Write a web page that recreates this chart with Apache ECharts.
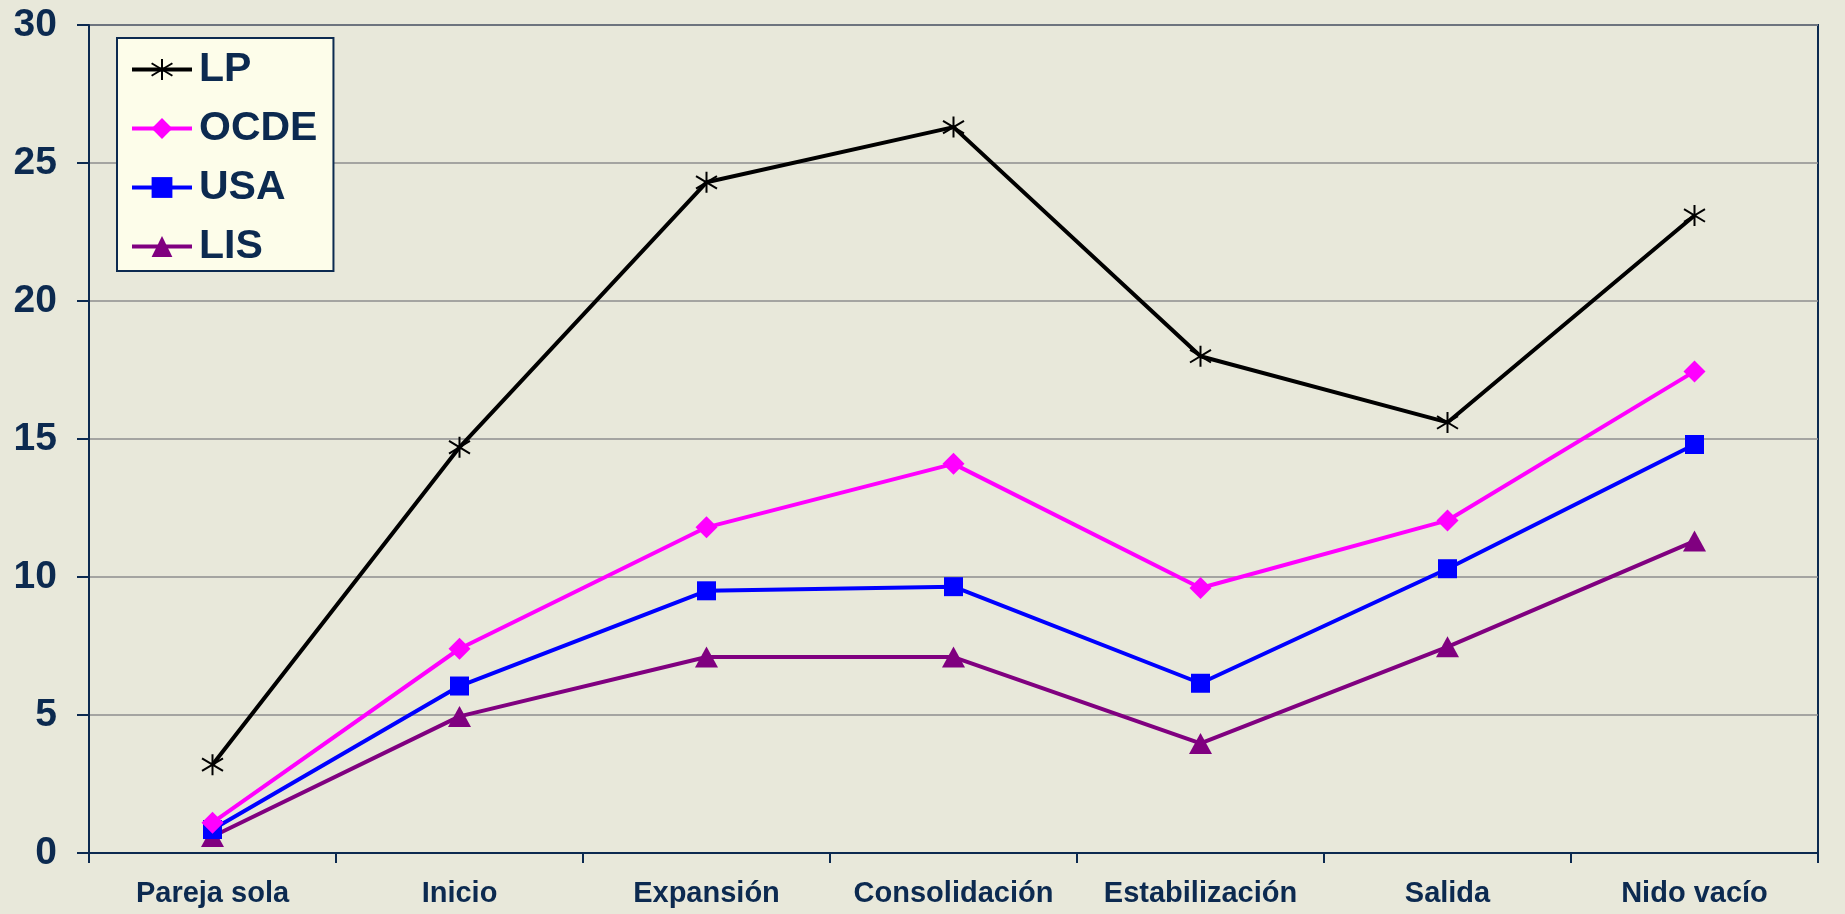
<!DOCTYPE html>
<html>
<head>
<meta charset="utf-8">
<script src="https://cdn.jsdelivr.net/npm/echarts@6/dist/echarts.min.js"></script>
<style>
  html, body { margin: 0; padding: 0; background: #e8e8da; }
  #chart { width: 1845px; height: 914px; }
</style>
</head>
<body>
<div id="chart"></div>
<script>
// etapas del ciclo de vida familiar
const categories = ['Pareja sola', 'Inicio', 'Expansión', 'Consolidación', 'Estabilización', 'Salida', 'Nido vacío']

const lpValues = [3.2, 14.7, 24.3, 26.3, 18.0, 15.6, 23.1]
const ocdeValues = [1.1, 7.4, 11.8, 14.1, 9.6, 12.05, 17.45]
const usaValues = [0.85, 6.05, 9.5, 9.65, 6.15, 10.3, 14.8]
const lisValues = [0.6, 4.95, 7.1, 7.1, 3.97, 7.47, 11.3]

const yTicks = [0, 5, 10, 15, 20, 25, 30]

const navy = '#0c2a50'
const font = 'Liberation Sans, Arial, sans-serif'

// asterisco para LP
const asterisk = 'path://M10,0 L10,20 M1,4 L19,16 M1,16 L19,4'

const chart = echarts.init(document.getElementById('chart'))

const option = {
  backgroundColor: '#e8e8da',
  animation: false,
  grid: {
    left: 89,
    right: 27,
    top: 25,
    bottom: 61,
    show: true,
    borderColor: navy,
    borderWidth: 2,
    backgroundColor: 'transparent',
  },
  legend: {
    orient: 'vertical',
    left: 117,
    top: 38,
    padding: [11, 16, 4, 13],
    backgroundColor: '#fdfdea',
    borderColor: navy,
    borderWidth: 2,
    borderRadius: 0,
    itemWidth: 60,
    itemHeight: 26,
    itemGap: 18,
    lineStyle: { width: 4 },
    textStyle: {
      fontFamily: font,
      fontSize: 41,
      fontWeight: 'bold',
      color: navy,
      lineHeight: 40,
      padding: [0, 0, 0, 2],
    },
    data: ['LP', 'OCDE', 'USA', 'LIS'],
  },
  xAxis: {
    type: 'category',
    data: categories,
    boundaryGap: true,
    axisLine: { lineStyle: { color: navy, width: 2 } },
    axisTick: { show: true, length: 10, lineStyle: { color: navy, width: 2 } },
    axisLabel: {
      fontFamily: font,
      fontSize: 29,
      fontWeight: 'bold',
      color: navy,
      margin: 26,
      interval: 0,
    },
    splitLine: { show: false },
  },
  yAxis: {
    type: 'value',
    min: yTicks[0],
    max: yTicks[yTicks.length - 1],
    interval: 5,
    axisLine: { show: true, lineStyle: { color: navy, width: 2 } },
    axisTick: { show: true, length: 12, lineStyle: { color: navy, width: 2 } },
    axisLabel: {
      fontFamily: font,
      fontSize: 39,
      fontWeight: 'bold',
      color: navy,
      margin: 32,
    },
    splitLine: { lineStyle: { color: '#8e8e8e', width: 1.5 } },
  },
  series: [
    {
      name: 'LP',
      type: 'line',
      data: lpValues,
      symbol: asterisk,
      symbolSize: 21,
      lineStyle: { color: '#000000', width: 4 },
      itemStyle: { color: '#000000', borderColor: '#000000', borderWidth: 2 },
      z: 5,
    },
    {
      name: 'OCDE',
      type: 'line',
      data: ocdeValues,
      symbol: 'diamond',
      symbolSize: 22,
      lineStyle: { color: '#ff00ff', width: 4 },
      itemStyle: { color: '#ff00ff' },
      z: 4,
    },
    {
      name: 'USA',
      type: 'line',
      data: usaValues,
      symbol: 'rect',
      symbolSize: 19,
      lineStyle: { color: '#0000ff', width: 4 },
      itemStyle: { color: '#0000ff' },
      z: 3,
    },
    {
      name: 'LIS',
      type: 'line',
      data: lisValues,
      symbol: 'triangle',
      symbolSize: [23, 21],
      lineStyle: { color: '#800080', width: 4 },
      itemStyle: { color: '#800080' },
      z: 2,
    },
  ],
}

chart.setOption(option)
</script>
</body>
</html>
